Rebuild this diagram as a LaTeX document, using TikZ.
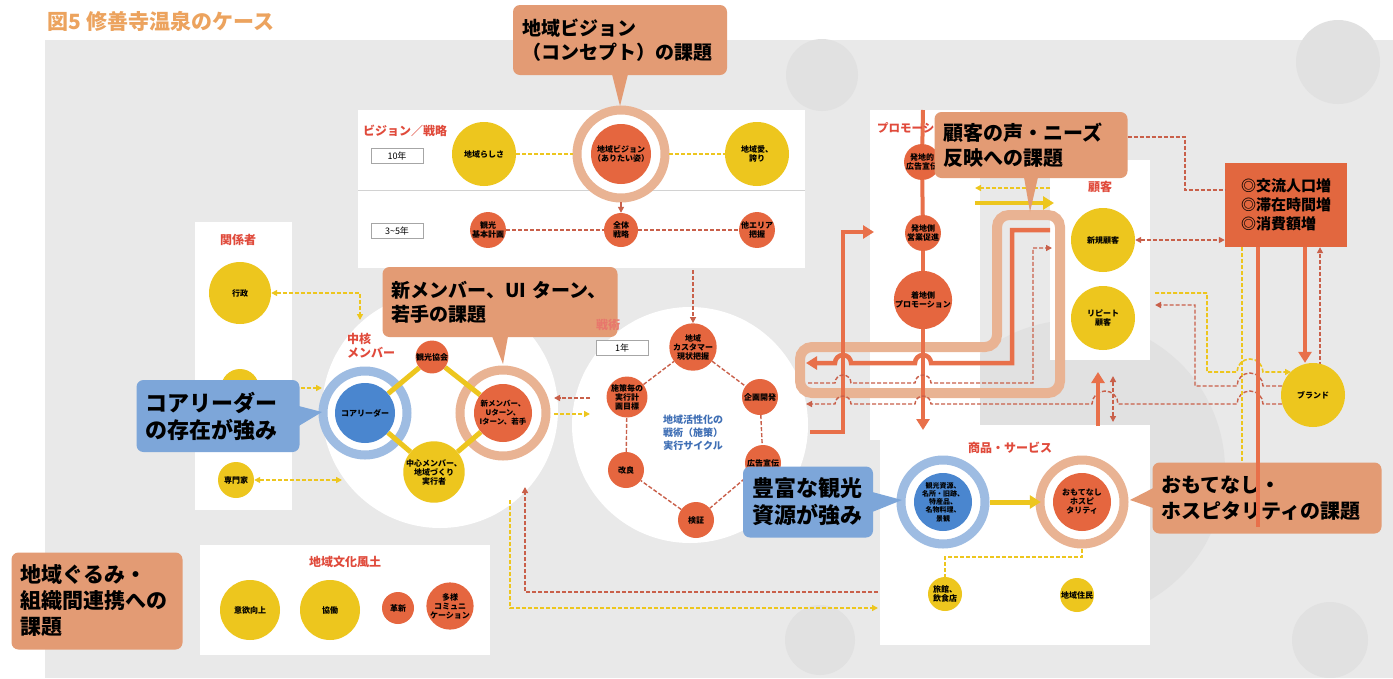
\documentclass[tikz,border=0pt]{standalone}
\usepackage{fontspec}
\setmainfont{Noto Sans CJK JP}
\usetikzlibrary{arrows.meta}
\definecolor{yel}{HTML}{EDC61E}
\definecolor{org}{HTML}{E5663F}
\definecolor{blu}{HTML}{4A86CF}
\definecolor{blring}{HTML}{9EBCE2}
\definecolor{tanc}{HTML}{E9B393}
\definecolor{sal}{HTML}{E39B74}
\definecolor{bcal}{HTML}{7DA6D9}
\definecolor{redl}{HTML}{E04A3B}
\definecolor{bgg}{HTML}{E9E9E9}
\definecolor{bgd}{HTML}{E1E1E1}
\definecolor{orl}{HTML}{E8704A}
\definecolor{rdc}{HTML}{C9604A}
\definecolor{titc}{HTML}{ECA35E}
\definecolor{kpic}{HTML}{E2673F}
\definecolor{cyb}{HTML}{3F6FB5}
\pgfdeclarelayer{back}
\pgfdeclarelayer{lines}
\pgfsetlayers{back,lines,main}
\begin{document}
\begin{tikzpicture}[x=1pt,y=-1pt,
  yc/.style={circle,fill=yel,inner sep=0pt,align=center,font=\fontsize{8}{9}\selectfont\bfseries},
  oc/.style={circle,fill=org,inner sep=0pt,align=center,font=\fontsize{8}{9}\selectfont\bfseries},
  bc/.style={circle,fill=blu,inner sep=0pt,align=center,font=\fontsize{8}{9}\selectfont\bfseries},
  redlbl/.style={text=redl,font=\fontsize{12}{14}\selectfont\bfseries,inner sep=1pt,align=left},
  yrbox/.style={draw=gray!70,fill=white,line width=0.8pt,minimum width=52pt,minimum height=15pt,inner sep=0pt,font=\fontsize{9}{10}\selectfont},
  salbox/.style={fill=sal,rounded corners=7pt,inner xsep=9pt,inner ysep=4pt,align=left,font=\fontsize{19}{24}\selectfont\bfseries},
  bluebox/.style={fill=bcal,rounded corners=7pt,inner xsep=9pt,inner ysep=4pt,align=left,font=\fontsize{22}{27}\selectfont\bfseries},
  kpibox/.style={fill=kpic,inner xsep=8pt,align=left,font=\fontsize{15}{19}\selectfont\bfseries,minimum width=122pt,minimum height=84pt},
  ydash/.style={draw=yel,line width=1.6pt,dash pattern=on 4pt off 2pt},
  rdash/.style={draw=rdc,line width=1.4pt,dash pattern=on 4pt off 2pt},
  rthin/.style={draw=rdc,line width=1.2pt},
  othick/.style={draw=orl,line width=4.5pt},
  ythick/.style={draw=yel,line width=5pt},
  ring/.style={line width=9pt,fill=white},
  arr/.style={-{Triangle[length=6pt,width=6pt]}},
  larr/.style={{Triangle[length=6pt,width=6pt]}-},
  darr/.style={{Triangle[length=6pt,width=6pt]}-{Triangle[length=6pt,width=6pt]}},
  bigarr/.style={-{Triangle[length=11pt,width=13pt]}}
]
\useasboundingbox (0,0) rectangle (1393,678);
% ---------- background and panels ----------
\begin{pgfonlayer}{back}
\fill[white] (0,0) rectangle (1393,678);
\fill[bgg] (45,40) rectangle (1393,678);
\fill[bgd] (822,75) circle (36);
\fill[bgd] (1338,62) circle (42);
\fill[bgd] (1075,470) circle (150);
\fill[bgd] (820,640) circle (35);
\fill[bgd] (1330,640) circle (38);
\fill[white] (358,110) rectangle (805,268);
\draw[gray!35,line width=1pt] (358,190) -- (805,190);
\fill[white] (195,222) rectangle (292,510);
\fill[white] (440,410) circle (118);
\fill[white] (690,425) circle (118);
\fill[white] (870,110) rectangle (980,440);
\fill[white] (1050,160) rectangle (1150,360);
\fill[white] (880,425) rectangle (1150,645);
\fill[white] (200,545) rectangle (490,655);
\draw[ring,draw=tanc] (621,154) circle (44);
\draw[ring,draw=blring] (365,413) circle (42);
\draw[ring,draw=tanc] (503,413) circle (43);
\draw[ring,draw=blring] (943,502) circle (42);
\draw[ring,draw=tanc] (1082,502) circle (42);
\end{pgfonlayer}

% ---------- title ----------
\node[anchor=west,text=titc,font=\fontsize{21}{23}\selectfont\bfseries] (title) at (44,21) {図5\ 修善寺温泉のケース};

% ---------- vision / strategy ----------
\node[redlbl,anchor=west] (vslbl) at (362,131) {ビジョン／戦略};
\node[yrbox] (y10) at (397,156) {10年};
\node[yrbox] (y35) at (397,231) {3\textasciitilde 5年};
\node[yc,minimum size=64pt] (rashisa) at (484,154) {地域らしさ};
\node[oc,minimum size=60pt] (vision) at (621,154) {地域ビジョン\\（ありたい姿）};
\node[yc,minimum size=64pt] (ai) at (757,154) {地域愛、\\誇り};
\node[oc,minimum size=34pt] (kihon) at (488,230) {観光\\基本計画};
\node[oc,minimum size=34pt] (zentai) at (621,230) {全体\\戦略};
\node[oc,minimum size=34pt] (tarea) at (757,230) {他エリア\\把握};

% ---------- stakeholders ----------
\node[redlbl] (kankei) at (238,240) {関係者};
\node[yc,minimum size=62pt] (gyosei) at (240,293) {行政};
\node[yc,minimum size=38pt] (midc) at (240,388) {};
\node[yc,minimum size=36pt] (senmon) at (236,480) {専門家};

% ---------- core members ----------
\node[redlbl,anchor=west] (chukaku) at (346,346) {中核\\メンバー};
\node[bc,minimum size=60pt] (core) at (365,413) {コアリーダー};
\node[oc,minimum size=32pt] (kyokai) at (432,357) {観光協会};
\node[oc,minimum size=58pt,font=\fontsize{7.5}{9}\selectfont\bfseries] (newm) at (503,413) {新メンバー、\\Uターン、\\Iターン、若手};
\node[yc,minimum size=32pt] (chushin) at (434,472) {中心メンバー、\\地域づくり\\実行者};

% ---------- tactics cycle ----------
\node[yrbox] (y1) at (622,348) {1年};
\node[oc,minimum size=38pt] (cy1) at (693,347) {地域\\カスタマー\\現状把握};
\node[oc,minimum size=36pt] (cy2) at (760,397) {企画開発};
\node[oc,minimum size=36pt] (cy3) at (763,463) {広告宣伝};
\node[oc,minimum size=36pt] (cy4) at (696,520) {検証};
\node[oc,minimum size=36pt] (cy5) at (626,470) {改良};
\node[oc,minimum size=38pt] (cy6) at (627,397) {施策毎の\\実行計\\画目標};
\node[text=cyb,align=center,font=\fontsize{10}{13}\selectfont\bfseries] (cytext) at (693,433) {地域活性化の\\戦術（施策）\\実行サイクル};

% ---------- promotion ----------
\node[redlbl,anchor=west,font=\fontsize{11.5}{13}\selectfont\bfseries] (promo) at (876,128) {プロモーション};
\node[oc,minimum size=32pt] (p1) at (922,162) {発地的\\広告宣伝};
\node[oc,minimum size=34pt] (p2) at (923,233) {発地側\\営業促進};
\node[oc,minimum size=34pt] (p3) at (923,300) {着地側\\プロモーション};

% ---------- customers ----------
\node[redlbl] (kokyaku) at (1100,187) {顧客};
\node[yc,minimum size=64pt] (shinki) at (1103,240) {新規顧客};
\node[yc,minimum size=64pt] (repeat) at (1103,318) {リピート\\顧客};
\node[kpibox] (kpi) at (1286,205) {◎交流人口増\\◎滞在時間増\\◎消費額増};
\node[yc,minimum size=64pt] (brand) at (1313,395) {ブランド};

% ---------- products / services ----------
\node[redlbl] (shohin) at (1010,448) {商品・サービス};
\node[bc,minimum size=58pt,font=\fontsize{7}{8.2}\selectfont\bfseries] (shigen) at (943,502) {観光資源、\\名所・旧跡、\\特産品、\\名物料理、\\景観};
\node[oc,minimum size=58pt] (omote) at (1082,502) {おもてなし\\ホスピ\\タリティ};
\node[yc,minimum size=34pt] (ryokan) at (945,594) {旅館、\\飲食店};
\node[yc,minimum size=34pt] (jumin) at (1077,595) {地域住民};

% ---------- regional culture ----------
\node[redlbl] (bunka) at (345,562) {地域文化風土};
\node[yc,minimum size=60pt] (iyoku) at (250,610) {意欲向上};
\node[yc,minimum size=60pt] (kyodo) at (330,610) {協働};
\node[oc,minimum size=32pt] (kakushin) at (398,608) {革新};
\node[oc,minimum size=32pt] (tayo) at (450,606) {多様\\コミュニ\\ケーション};

% ---------- connectors ----------
\begin{pgfonlayer}{lines}
% vision row
\draw[ydash,shorten >=18pt] (rashisa) -- (vision);
\draw[ydash,shorten <=18pt] (vision) -- (ai);
\draw[rthin,arr,shorten <=18pt] (vision) -- (zentai);
\draw[rdash] (kihon) -- (zentai);
\draw[rdash] (zentai) -- (tarea);
\coordinate (cyin) at (693,270);
\draw[rdash,arr] (cyin) -- (cy1);
% stakeholders
\coordinate (g1) at (360,293);
\coordinate (g2) at (360,320);
\draw[ydash,darr] (gyosei) -- (g1) -- (g2);
\coordinate (m1) at (322,388);
\draw[ydash,arr] (midc) -- (m1);
\coordinate (s1) at (342,480);
\draw[ydash,darr] (senmon) -- (s1);
% core diamond
\draw[ythick] (core) -- (kyokai) -- (newm) -- (chushin) -- (core);
\coordinate (n1) at (590,398);
\coordinate (n1a) at (554,398);
\coordinate (n2) at (590,414);
\coordinate (n2a) at (554,414);
\draw[rdash,arr] (n1) -- (n1a);
\draw[ydash,arr] (n2a) -- (n2);
% cycle
\draw[rdash] (cy1) -- (cy2) -- (cy3) -- (cy4) -- (cy5) -- (cy6) -- (cy1);
% tan frame
\draw[tanc,line width=10pt,rounded corners=12pt] (997,215) -- (1060,215) -- (1060,393) -- (800,393) -- (800,347) -- (997,347) -- cycle;
% promotion spine
\coordinate (ptop) at (923,110);
\coordinate (pbot) at (923,430);
\draw[othick,line width=4pt] (ptop) -- (p1);
\draw[othick,line width=4pt] (p1) -- (p2);
\draw[othick,line width=4pt] (p2) -- (p3);
\draw[othick,line width=4pt,bigarr] (p3) -- (pbot);
% L arrow into promotion
\coordinate (L0) at (810,432);
\coordinate (L1) at (843,432);
\coordinate (L2) at (843,232);
\coordinate (L3) at (874,232);
\draw[othick,bigarr] (L0) -- (L1) -- (L2) -- (L3);
% feedback lines inside frame
\coordinate (fb1) at (1050,230);
\coordinate (fb1e) at (806,363);
\draw[othick,bigarr] (fb1) -- (1012,230) -- (1012,363) -- (931,363) arc[start angle=0,end angle=-180,radius=8] -- (851,363) arc[start angle=0,end angle=-180,radius=8] -- (fb1e);
\coordinate (fb2s) at (808,383);
\coordinate (fb2) at (1052,248);
\draw[rdash,arr] (fb2s) -- (835,383) arc[start angle=180,end angle=360,radius=8] -- (915,383) arc[start angle=180,end angle=360,radius=8] -- (1033,383) -- (1033,248) -- (fb2);
% lower long dashed from brand
\coordinate (fb3e) at (806,404);
\draw[rdash,arr] (1282,404) -- (1263,404) arc[start angle=0,end angle=-180,radius=13] -- (1118,404) arc[start angle=0,end angle=-180,radius=13] -- (931,404) arc[start angle=0,end angle=-180,radius=8] -- (851,404) arc[start angle=0,end angle=-180,radius=8] -- (fb3e);
% top yellow arrows
\coordinate (ya) at (1050,188);
\coordinate (yb) at (975,188);
\draw[ydash,arr] (ya) -- (yb);
\coordinate (yc1) at (975,203);
\coordinate (yc2) at (1054,203);
\draw[ythick,line width=4.5pt,bigarr] (yc1) -- (yc2);
% customers and kpi
\draw[rdash,darr] (shinki.east) -- (shinki.east -| kpi.west);
\draw[othick,bigarr] ([xshift=19pt]kpi.south) -- ([xshift=19pt]kpi.south |- brand.north);
\draw[rdash,arr] ([xshift=34pt,yshift=-3pt]kpi.south |- brand.north) -- ([xshift=34pt]kpi.south);
\draw[ydash] ([xshift=-44pt]kpi.south) -- ++(0,216);
\coordinate (yb1) at (1155,293);
\coordinate (yb2) at (1291,372);
\draw[ydash,arr] (yb1) -- (1207,293) -- (1207,372) -- (1237,372) arc[start angle=180,end angle=360,radius=13] -- (yb2);
\coordinate (rb1) at (1282,386);
\coordinate (rb2) at (1155,305);
\draw[rdash,arr] (rb1) -- (1263,386) arc[start angle=0,end angle=-180,radius=13] -- (1195,386) -- (1195,305) -- (rb2);
\coordinate (up1) at (1098,426);
\coordinate (up2) at (1098,372);
\draw[othick,bigarr] (up1) -- (up2);
\coordinate (ud1) at (1113,376);
\coordinate (ud2) at (1113,422);
\draw[rdash,darr] (ud1) -- (ud2);
% products
\draw[ythick,bigarr,shorten <=18pt,shorten >=12pt] (shigen) -- (omote);
\draw[ydash] ([yshift=-18pt]omote.south) -- (omote.south |- 0,557) -- (ryokan.north |- 0,557) -- (ryokan.north);
% long bottom lines
\coordinate (bl1) at (878,592);
\coordinate (bl2) at (525,487);
\draw[rdash,arr] (bl1) -- (525,592) -- (bl2);
\coordinate (bl3) at (510,500);
\coordinate (bl4) at (878,608);
\draw[ydash,arr] (bl3) -- (510,608) -- (bl4);
\end{pgfonlayer}

% ---------- callouts ----------
\node[salbox,text width=196pt,minimum height=70pt] (c1) at (620,40) {地域ビジョン\\（コンセプト）の課題};
\coordinate (c1tip) at (620,106);
\fill[sal] ([xshift=-8pt,yshift=1pt]c1.south) -- (c1tip) -- ([xshift=8pt,yshift=1pt]c1.south) -- cycle;

\node[salbox,text width=217pt,minimum height=70pt] (c2) at (500,302) {新メンバー、UI ターン、\\若手の課題};
\coordinate (c2tip) at (503,364);
\fill[sal] ([xshift=-8pt,yshift=1pt]c2.south) -- (c2tip) -- ([xshift=8pt,yshift=1pt]c2.south) -- cycle;
\node[redlbl,text=redl!75] (senjutsu) at (608,325) {戦術};

\node[salbox,text width=175pt,minimum height=66pt,font=\fontsize{20}{25}\selectfont\bfseries] (c3) at (1031,145) {顧客の声・ニーズ\\反映への課題};
\coordinate (c3tip) at (1030,212);
\fill[sal] ([xshift=-7pt,yshift=1pt]c3.south) -- (c3tip) -- ([xshift=7pt,yshift=1pt]c3.south) -- cycle;
\draw[rdash] ([yshift=8pt]c3.east) -- (1185,137) -- (1185,190) -- (kpi.west |- 0,190);

\node[bluebox,text width=145pt,minimum height=72pt] (c4) at (218,416) {コアリーダー\\の存在が強み};
\coordinate (c4tip) at (322,412);
\fill[bcal] ([xshift=-1pt,yshift=10pt]c4.east) -- (c4tip) -- ([xshift=-1pt,yshift=-10pt]c4.east) -- cycle;

\node[bluebox,text width=112pt,minimum height=71pt] (c5) at (808,502) {豊富な観光\\資源が強み};
\coordinate (c5tip) at (902,500);
\fill[bcal] ([xshift=-1pt,yshift=10pt]c5.east) -- (c5tip) -- ([xshift=-1pt,yshift=-10pt]c5.east) -- cycle;

\node[salbox,text width=211pt,minimum height=71pt,font=\fontsize{20}{26}\selectfont\bfseries] (c6) at (1267,498) {おもてなし・\\ホスピタリティの課題};
\coordinate (c6tip) at (1130,500);
\fill[sal] ([xshift=1pt,yshift=10pt]c6.west) -- (c6tip) -- ([xshift=1pt,yshift=-10pt]c6.west) -- cycle;
\draw[othick] ([xshift=-28pt]kpi.south) -- ++(0,280);

\node[salbox,text width=153pt,minimum height=97pt,font=\fontsize{21}{26}\selectfont\bfseries] (c7) at (97,601) {地域ぐるみ・\\組織間連携への\\課題};
\end{tikzpicture}
\end{document}
